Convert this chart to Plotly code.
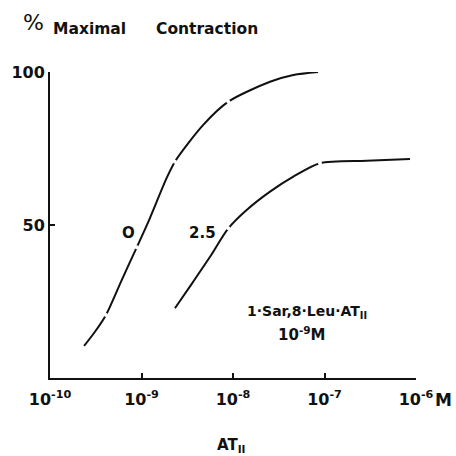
import plotly.graph_objects as go

# Curve for 0 (no antagonist): concentration of AT_II (M) and % maximal contraction
conc_0 = [2.36e-10, 3.10e-10, 4.09e-10, 6.08e-10, 8.87e-10, 1.21e-9, 1.88e-9,
          2.32e-9, 4.73e-9, 8.89e-9, 2.54e-8, 4.56e-8, 8.49e-8]
resp_0 = [10.5, 15.1, 20.6, 32.0, 42.7, 51.6, 65.3, 70.7, 82.7, 90.3, 96.8, 99.0, 100.0]
# measured points on curve 0 (drawn as small breaks in the line)
pts_0_x = [4.09e-10, 8.87e-10, 2.32e-9, 8.89e-9]
pts_0_y = [20.6, 42.7, 70.7, 90.3]

# Curve for 2.5 x 10^-9 M 1-Sar,8-Leu-AT_II
conc_25 = [2.32e-9, 3.68e-9, 5.61e-9, 8.89e-9, 1.41e-8, 2.54e-8, 4.56e-8, 8.93e-8,
           2.89e-7, 8.59e-7]
resp_25 = [22.8, 31.5, 39.6, 48.9, 54.9, 60.9, 65.8, 70.2, 71.0, 71.6]
pts_25_x = [8.89e-9, 8.93e-8]
pts_25_y = [48.9, 70.2]

x_tickvals = [1e-10, 1e-9, 1e-8, 1e-7, 1e-6]
x_ticktext = ["10<sup>-10</sup>", "10<sup>-9</sup>", "10<sup>-8</sup>", "10<sup>-7</sup>", "10<sup>-6</sup>"]
y_tickvals = [50, 100]
y_ticktext = ["50", "100"]

FONT = "DejaVu Sans"
INK = "#111111"

fig = go.Figure()
for xs, ys in [(conc_0, resp_0), (conc_25, resp_25)]:
    fig.add_trace(go.Scatter(x=xs, y=ys, mode="lines",
                             line=dict(color=INK, width=2, shape="spline", smoothing=0.8),
                             hoverinfo="skip", showlegend=False))
for xs, ys in [(pts_0_x, pts_0_y), (pts_25_x, pts_25_y)]:
    fig.add_trace(go.Scatter(x=xs, y=ys, mode="markers",
                             marker=dict(color="white", size=4, line=dict(width=0)),
                             hoverinfo="skip", showlegend=False))

fig.update_layout(
    width=456, height=456,
    margin=dict(l=50, r=40, t=72, b=78),
    paper_bgcolor="white", plot_bgcolor="white",
    font=dict(family=FONT, color=INK, size=14),
    xaxis=dict(type="log", range=[-10, -6], showgrid=False, zeroline=False,
               showline=True, linecolor=INK, linewidth=2,
               ticks="inside", ticklen=5, tickwidth=2, tickcolor=INK,
               tickvals=x_tickvals, ticktext=x_ticktext,
               tickfont=dict(family=FONT, size=16, weight="bold"),
               ticklabelstandoff=6),
    yaxis=dict(range=[0, 100], showgrid=False, zeroline=False,
               showline=True, linecolor=INK, linewidth=2,
               ticks="inside", ticklen=5, tickwidth=2, tickcolor=INK,
               tickvals=y_tickvals, ticktext=y_ticktext,
               tickfont=dict(family=FONT, size=16, weight="bold"),
               ticklabelstandoff=0),
)

def note(text, x, y, size, ref="paper", xanchor="center"):
    return dict(text=text, x=x, y=y, xref=ref if ref == "paper" else "x",
                yref=ref if ref == "paper" else "y", xanchor=xanchor, yanchor="middle",
                font=dict(size=size), showarrow=False)

ann = [
    note("%", -0.046, 1.163, 22),
    note("<b>Maximal</b>", 0.004, 1.141, 15.5, xanchor="left"),
    note("<b>Contraction</b>", 0.285, 1.141, 15.5, xanchor="left"),
    note("<b>M</b>", 1.0765, -0.072, 17),
    note("<b>AT<sub>II</sub></b>", 0.497, -0.222, 15),
    note("<b>O</b>", -9.147, 47.4, 15, ref="data"),
    note("<b>2.5</b>", -8.33, 47.4, 15, ref="data"),
    note("<b>1·Sar,8·Leu·AT<sub>II</sub></b>", -7.19, 21.6, 14, ref="data"),
    note("<b>10<sup>-9</sup>M</b>", -7.25, 14.4, 15, ref="data"),
]
fig.update_layout(annotations=ann)

fig.write_html("out.html")
